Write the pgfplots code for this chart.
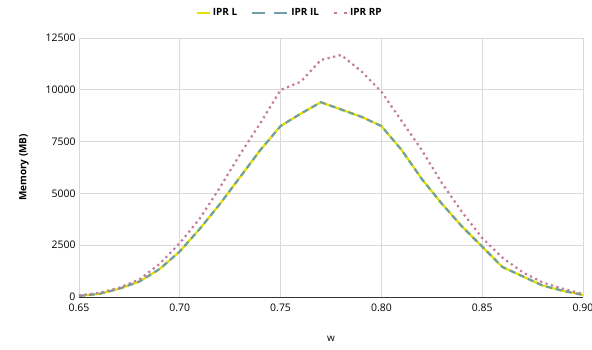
\documentclass[border=0pt]{standalone}
\usepackage{fontspec}
\setmainfont{Open Sans}
\usepackage{pgfplots}
\pgfplotsset{compat=1.18}
\definecolor{cL}{HTML}{E6E000}
\definecolor{cIL}{HTML}{6E9FA6}
\definecolor{cRP}{HTML}{C47A9E}
\definecolor{gridc}{HTML}{D9D9D9}
\pgfplotsset{
  ilimg/.style={legend image code/.code={\draw[##1, dash pattern=on 13bp off 9bp] (0bp,0bp) -- (36bp,0bp);}},
  rpimg/.style={legend image code/.code={\draw[##1, dash pattern=on 3bp off 7bp] (0bp,0bp) -- (13bp,0bp);}},
}
\begin{document}
\begin{tikzpicture}
\begin{axis}[
  scale only axis,
  width=504bp, height=259bp,
  xmin=0.65, xmax=0.90, ymin=0, ymax=12500,
  xtick={0.65,0.70,0.75,0.80,0.85,0.90},
  ytick={0,2500,5000,7500,10000,12500},
  xticklabel style={yshift=-3.5bp, /pgf/number format/.cd, fixed, fixed zerofill, precision=2},
  yticklabel style={/pgf/number format/.cd, fixed, set thousands separator={}},
  /pgf/number format/assume math mode=true,
  scaled x ticks=false, scaled y ticks=false,
  tick label style={font=\fontsize{10.5}{12}\selectfont},
  major tick length=0pt,
  grid=major,
  major grid style={gridc, line width=0.8pt},
  axis x line=bottom, axis y line=left,
  x axis line style={black!80, line width=0.8pt, -},
  y axis line style={gridc, line width=0.8pt, -},
  xlabel={w},
  ylabel={\textbf{Memory (MB)}},
  label style={font=\fontsize{10}{12}\selectfont},
  xlabel style={yshift=-18bp},
  ylabel style={yshift=10bp},
  legend columns=3,
  legend style={draw=none, fill=none, font=\bfseries\fontsize{10}{12}\selectfont,
    at={(rel axis cs:0.418,1)}, anchor=center, yshift=25bp,
    /tikz/every even column/.append style={column sep=12bp}},
  legend image code/.code={\draw[#1] (0bp,0bp) -- (13bp,0bp);},
]
\addplot[cL, line width=2.2pt] coordinates {
(0.65,50) (0.66,150) (0.67,400) (0.68,750) (0.69,1350) (0.70,2200)
(0.71,3300) (0.72,4500) (0.73,5800) (0.74,7100) (0.75,8250)
(0.76,8850) (0.77,9400) (0.78,9050) (0.79,8700) (0.80,8250)
(0.81,7100) (0.82,5700) (0.83,4500) (0.84,3400) (0.85,2430)
(0.86,1450) (0.87,1000) (0.88,550) (0.89,300) (0.90,100)};
\addlegendentry{IPR L}
\addplot[cIL, line width=2.2pt, dash pattern=on 6bp off 4bp, ilimg] coordinates {
(0.65,50) (0.66,150) (0.67,400) (0.68,750) (0.69,1350) (0.70,2200)
(0.71,3300) (0.72,4500) (0.73,5800) (0.74,7100) (0.75,8250)
(0.76,8850) (0.77,9400) (0.78,9050) (0.79,8700) (0.80,8250)
(0.81,7100) (0.82,5700) (0.83,4500) (0.84,3400) (0.85,2430)
(0.86,1450) (0.87,1000) (0.88,550) (0.89,300) (0.90,100)};
\addlegendentry{IPR IL}
\addplot[cRP, line width=2.2pt, dash pattern=on 2.2bp off 3.5bp, rpimg] coordinates {
(0.65,80) (0.66,200) (0.67,450) (0.68,850) (0.69,1600) (0.70,2600)
(0.71,3800) (0.72,5300) (0.73,6900) (0.74,8400) (0.75,9990)
(0.76,10390) (0.77,11440) (0.78,11680) (0.79,10900) (0.80,9910)
(0.81,8500) (0.82,7100) (0.83,5500) (0.84,4100) (0.85,2850)
(0.86,1900) (0.87,1200) (0.88,700) (0.89,400) (0.90,150)};
\addlegendentry{IPR RP}
\end{axis}
\pgfresetboundingbox
\path (current axis.south west) ++(-79bp,-53bp) rectangle ++(592bp,350bp);
\end{tikzpicture}
\end{document}
